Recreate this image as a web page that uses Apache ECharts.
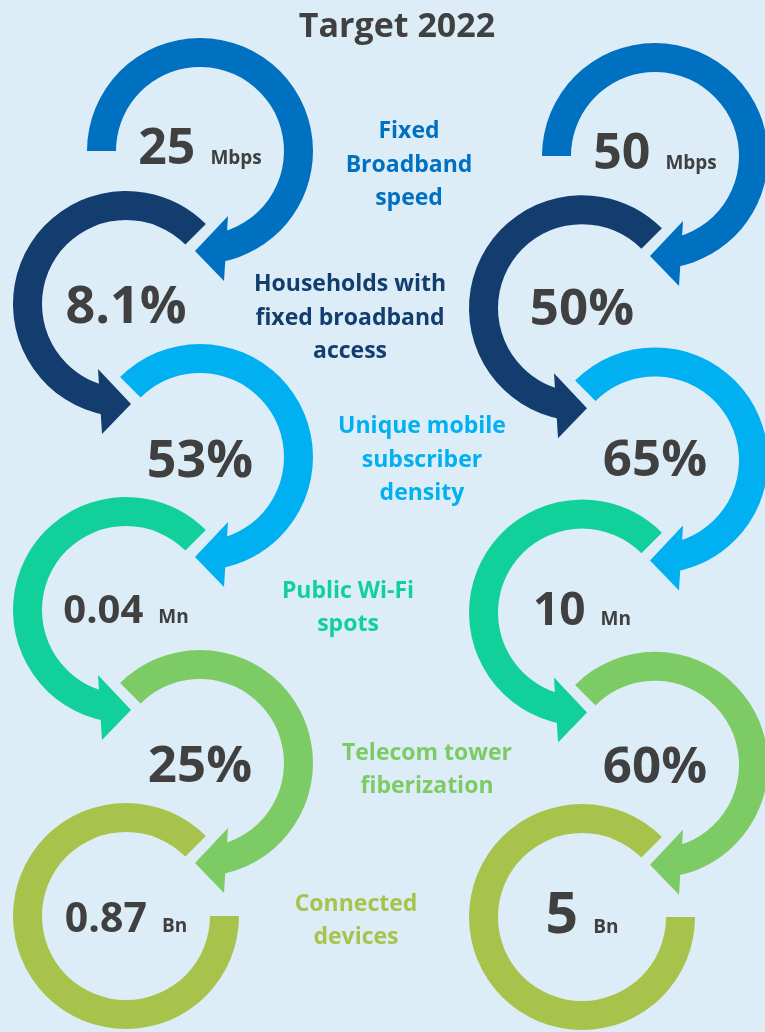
<!DOCTYPE html>
<html>
<head>
<meta charset="utf-8">
<title>Target 2022</title>
<script src="https://cdn.jsdelivr.net/npm/echarts@6/dist/echarts.min.js"></script>
<style>
  html, body { margin: 0; padding: 0; background: #dcedf7; }
  #main { width: 765px; height: 1032px; }
</style>
</head>
<body>
<div id="main"></div>
<script>
// ---- data ----
var titleText = 'Target 2022';
var metricNames = [
  'Fixed\nBroadband\nspeed',
  'Households with\nfixed broadband\naccess',
  'Unique mobile\nsubscriber\ndensity',
  'Public Wi-Fi\nspots',
  'Telecom tower\nfiberization',
  'Connected\ndevices'
];
var currentValues = [25, 8.1, 53, 0.04, 25, 0.87];
var currentUnits = ['Mbps', '%', '%', 'Mn', '%', 'Bn'];
var targetValues = [50, 50, 65, 10, 60, 5];
var targetUnits = ['Mbps', '%', '%', 'Mn', '%', 'Bn'];

// ---- styling / layout ----
var ringColors = ['#0070c0', '#123d6e', '#00b0f0', '#12d09a', '#7dcb64', '#a8c34b'];
var numColor = '#404040';
var FONT = '"Open Sans", "Noto Sans", sans-serif';
var currentFontSizes = [50, 52, 52, 40, 51, 41];
var targetFontSizes = [50, 51, 51, 46, 51, 57];
var currentBaseShift = [13, 19, 20, 13, 19, 16];
var targetBaseShift = [13, 17, 16, 12, 18, 16];
var labelX = [409, 350, 422, 348, 427, 356];
var labelY = [165, 318, 460, 608, 770, 921];
var R_IN = 84, R_OUT = 113;

var measureCtx = document.createElement('canvas').getContext('2d');
function textWidth(font, s) {
  measureCtx.font = font;
  return measureCtx.measureText(s).width;
}
// distance from the 'middle' baseline down to the alphabetic baseline
function midToBase(font) {
  measureCtx.font = font;
  measureCtx.textBaseline = 'middle';
  var m = measureCtx.measureText('H');
  return m.actualBoundingBoxDescent || 0;
}

var deg = Math.PI / 180;

function makeRenderer(values, units, fontSizes, baseShift) {
  return function (params, api) {
    var i = params.dataIndex;
    var p = api.coord([api.value(0), api.value(1)]);
    var cx = p[0], cy = p[1];
    var color = ringColors[i];
    var even = i % 2 === 0;
    var children = [];

    // ring arc
    var start, end;
    if (i === 0) { start = -180; end = 80; }
    else if (i === 5) { start = 0; end = 315; }
    else if (even) { start = -135; end = 80; }
    else { start = 100; end = 315; }
    children.push({
      type: 'sector',
      shape: { cx: cx, cy: cy, r0: R_IN, r: R_OUT, startAngle: start * deg, endAngle: end * deg, clockwise: true },
      style: { fill: color }
    });

    // arrow head
    if (i < 5) {
      var s = even ? 1 : -1;
      children.push({
        type: 'polygon',
        shape: { points: [[cx + s * 28, cy + 65], [cx - s * 5, cy + 100], [cx + s * 24, cy + 130]] },
        style: { fill: color }
      });
    }

    // value text
    var unit = units[i];
    var numStr = String(values[i]) + (unit === '%' ? '%' : '');
    var unitStr = unit === '%' ? '' : unit;
    var numFont = 'bold ' + fontSizes[i] + 'px ' + FONT;
    var unitFont = 'bold 19px ' + FONT;
    var wNum = textWidth(numFont, numStr);
    var gap = 15;
    var wUnit = unitStr ? textWidth(unitFont, unitStr) : 0;
    var total = wNum + (unitStr ? gap + wUnit : 0);
    var x0 = cx - total / 2;
    var base = cy + baseShift[i];
    children.push({
      type: 'text',
      style: { text: numStr, x: x0, y: base - midToBase(numFont), font: numFont, fill: numColor, align: 'left', verticalAlign: 'middle' }
    });
    if (unitStr) {
      children.push({
        type: 'text',
        style: { text: unitStr, x: x0 + wNum + gap, y: base - midToBase(unitFont), font: unitFont, fill: numColor, align: 'left', verticalAlign: 'middle' }
      });
    }
    return { type: 'group', children: children };
  };
}

var rowData = metricNames.map(function (name, i) { return [i % 2 === 0 ? 1 : -1, i]; });

var titleFont = 'bold 34px ' + FONT;
var graphics = [{
  type: 'text',
  x: 397, y: 37 - midToBase(titleFont),
  style: { text: titleText, font: titleFont, fill: numColor, align: 'center', verticalAlign: 'middle' }
}];
metricNames.forEach(function (name, i) {
  graphics.push({
    type: 'text',
    x: labelX[i], y: labelY[i],
    style: {
      text: name, font: 'bold 23px ' + FONT, fill: ringColors[i],
      align: 'center', verticalAlign: 'middle', lineHeight: 33.5
    }
  });
});

var myChart = echarts.init(document.getElementById('main'));
var option = {
  backgroundColor: '#dcedf7',
  animation: false,
  grid: [
    { left: 126, top: 151, width: 74, height: 765 },
    { left: 582, top: 156, width: 73, height: 761 }
  ],
  xAxis: [
    { gridIndex: 0, type: 'value', min: -1, max: 1, show: false },
    { gridIndex: 1, type: 'value', min: -1, max: 1, show: false }
  ],
  yAxis: [
    { gridIndex: 0, type: 'value', min: 0, max: 5, inverse: true, show: false },
    { gridIndex: 1, type: 'value', min: 0, max: 5, inverse: true, show: false }
  ],
  graphic: graphics,
  series: [
    {
      name: 'Current', type: 'custom', xAxisIndex: 0, yAxisIndex: 0,
      renderItem: makeRenderer(currentValues, currentUnits, currentFontSizes, currentBaseShift),
      data: rowData, silent: true
    },
    {
      name: 'Target 2022', type: 'custom', xAxisIndex: 1, yAxisIndex: 1,
      renderItem: makeRenderer(targetValues, targetUnits, targetFontSizes, targetBaseShift),
      data: rowData, silent: true
    }
  ]
};
myChart.setOption(option);
</script>
</body>
</html>
